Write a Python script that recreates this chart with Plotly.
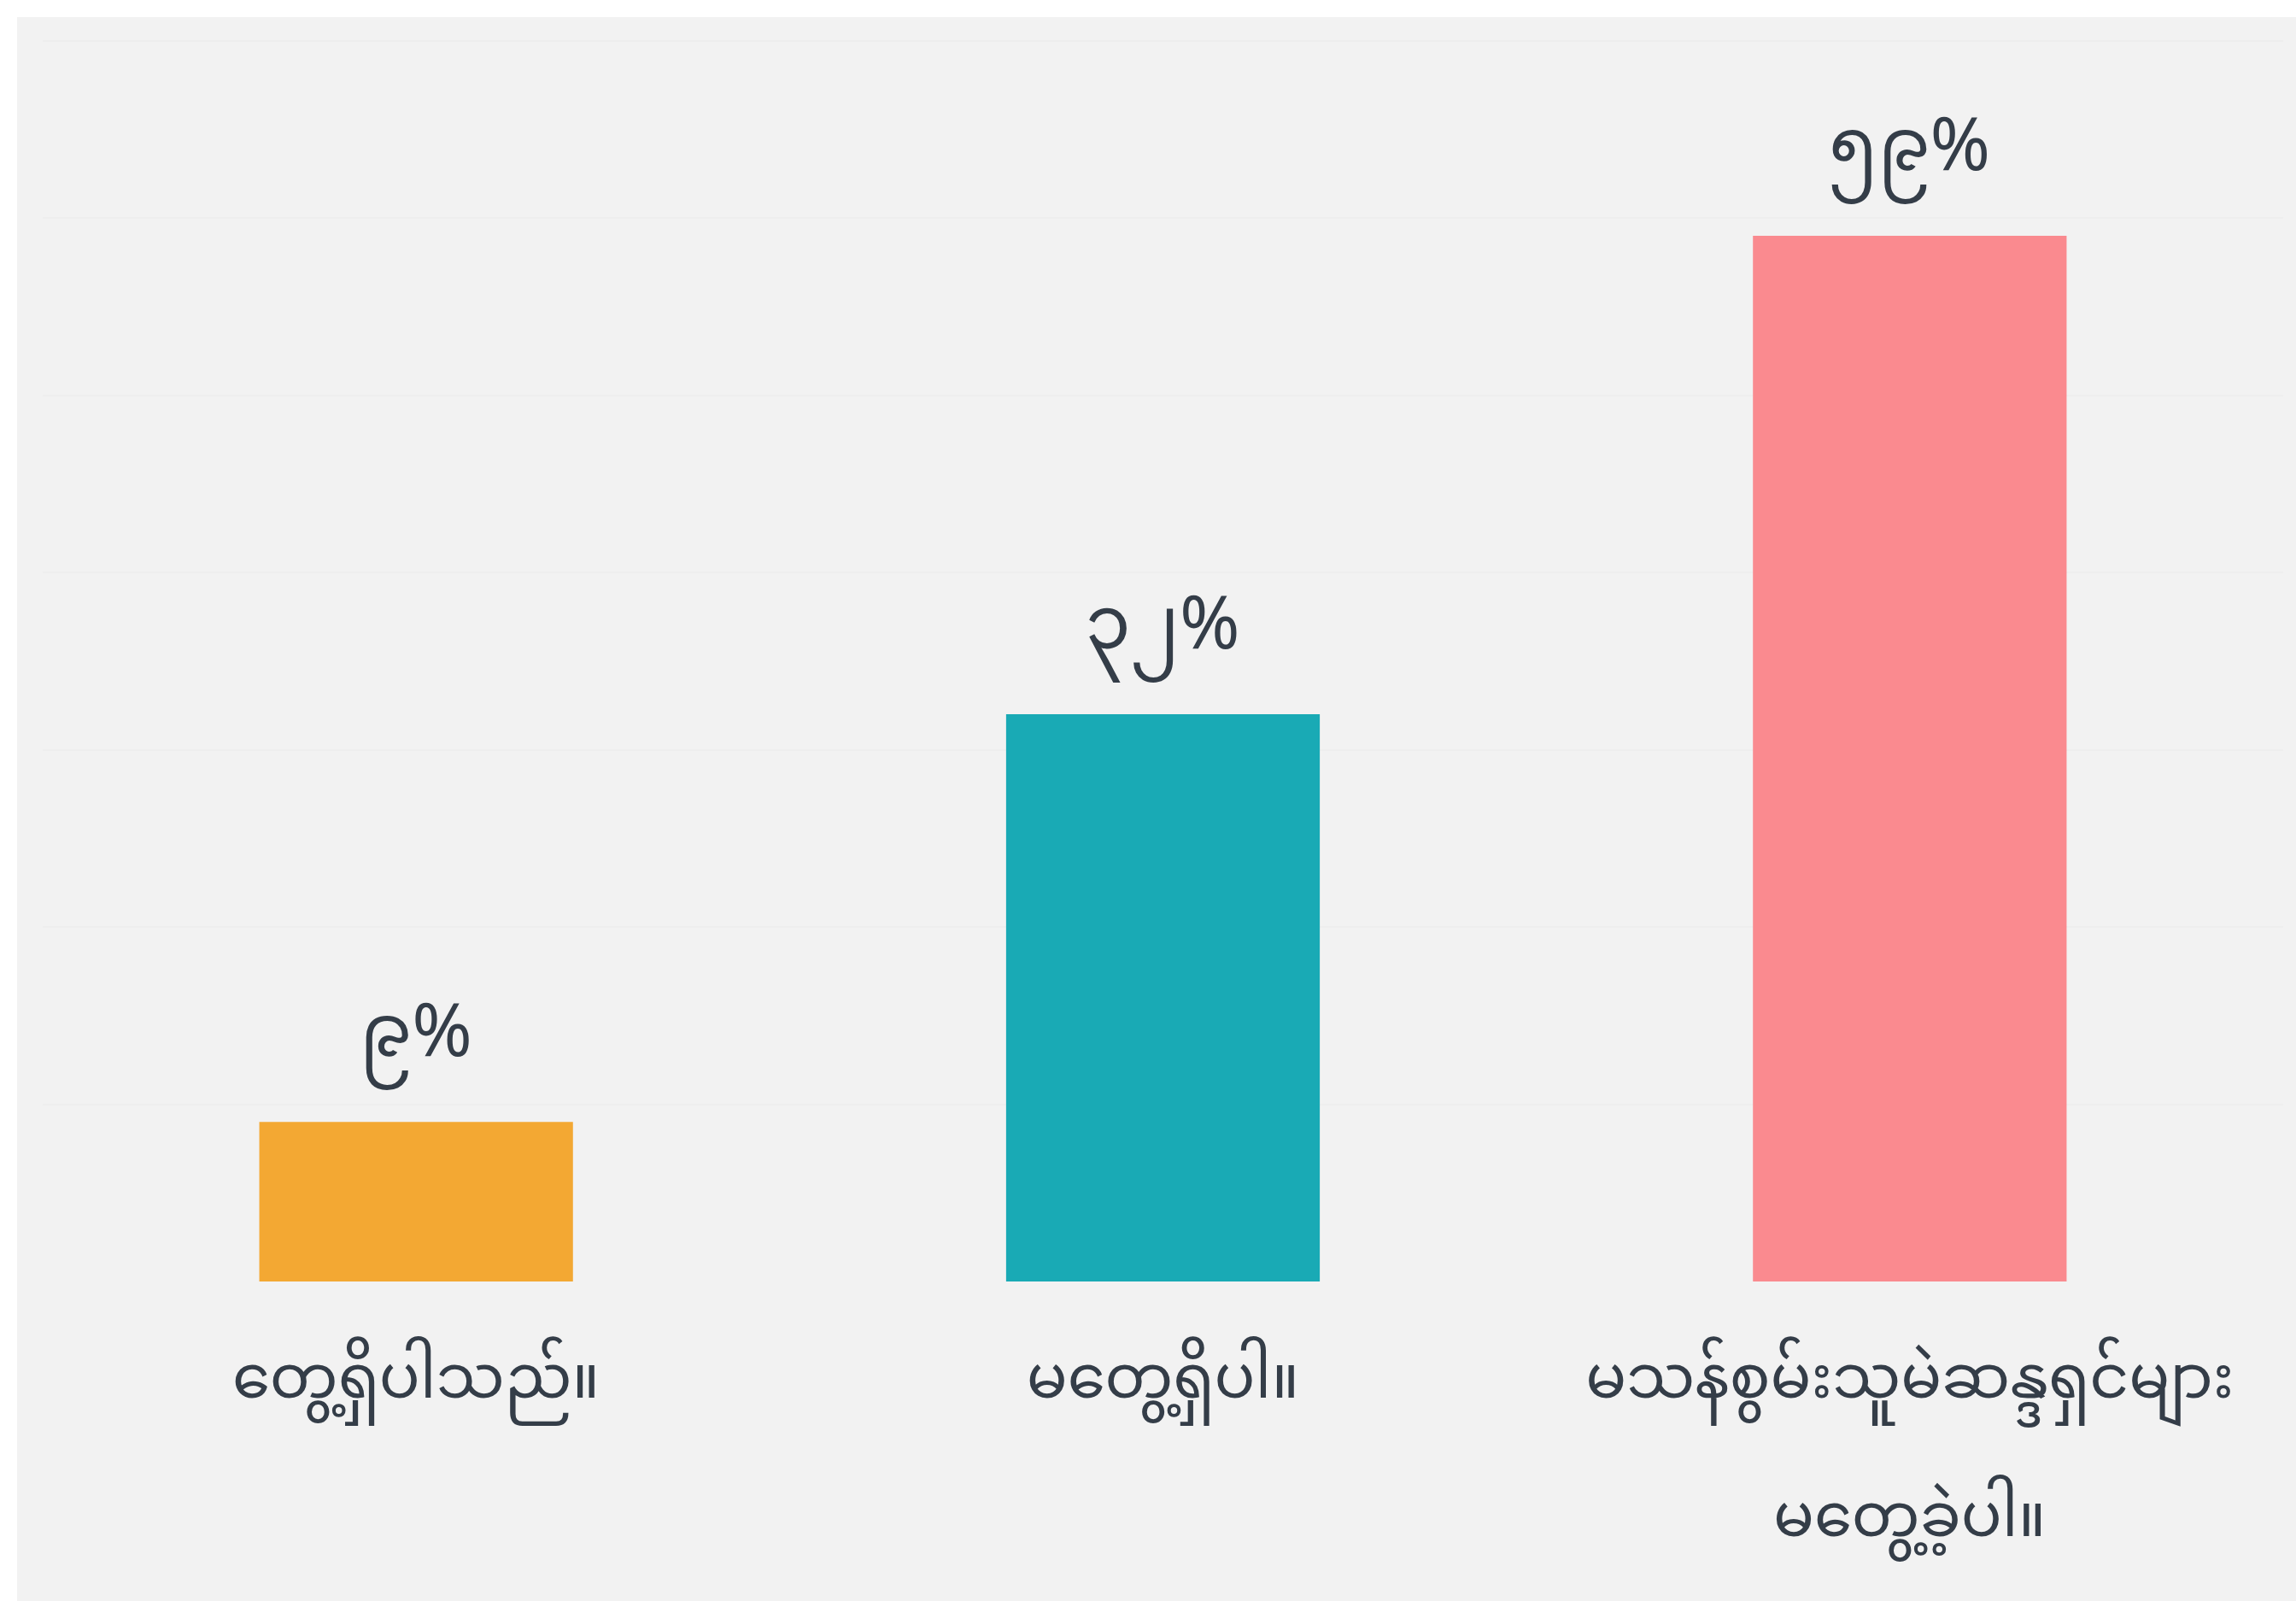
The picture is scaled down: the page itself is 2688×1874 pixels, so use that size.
import plotly.graph_objects as go

categories = ["တွေ့ရှိပါသည်။", "မတွေ့ရှိပါ။", "မသန်စွမ်းသူမဲဆန္ဒရှင်များ"]
category_second_lines = ["", "", "မတွေ့ခဲ့ပါ။"]
values = [9, 32, 59]
value_labels = ["၉%", "၃၂%", "၅၉%"]
bar_colors = ["#f3a833", "#19aab5", "#fa8a8f"]

W, H = 2688, 1874
ML, MR, MT, MB = 50, 15, 27, 374
text_color = "#343d48"
FONT = "Noto Sans Myanmar, Noto Sans"
LABEL_SIZE = 71
VALUE_SIZE = 85

fig = go.Figure(
    go.Bar(
        x=categories,
        y=values,
        marker=dict(color=bar_colors, line=dict(width=0)),
        hoverinfo="skip",
    )
)

# value labels above bars
for c, v, lab in zip(categories, values, value_labels):
    fig.add_annotation(
        x=c, y=v, xref="x", yref="y", text=lab, showarrow=False,
        yanchor="bottom", yshift=2,
        font=dict(size=VALUE_SIZE, color=text_color, family=FONT),
    )

# second lines of category labels
for c, l2 in zip(categories, category_second_lines):
    if l2:
        fig.add_annotation(
            x=c, y=0, xref="x", yref="paper", text=l2, showarrow=False,
            yanchor="middle", yshift=-281,
            font=dict(size=LABEL_SIZE, color=text_color, family=FONT),
        )

pw = W - ML - MR
ph = H - MT - MB
fig.add_shape(
    type="rect", xref="paper", yref="paper", layer="below",
    x0=(20 - ML) / pw, x1=(W - ML) / pw,
    y0=-MB / ph, y1=((H - MB) - 20) / ph,
    fillcolor="#f2f2f2", line=dict(width=0),
)

fig.update_layout(
    width=W, height=H,
    margin=dict(l=ML, r=MR, t=MT, b=MB, autoexpand=False),
    paper_bgcolor="white",
    plot_bgcolor="rgba(0,0,0,0)",
    bargap=0.58,
    showlegend=False,
    font=dict(family=FONT, color=text_color),
    xaxis=dict(
        showgrid=False, zeroline=False, showline=False, automargin=False,
        ticks="", tickfont=dict(size=LABEL_SIZE, color=text_color, family=FONT),
        ticklabelstandoff=64,
    ),
    yaxis=dict(
        range=[0, 71], dtick=10, showticklabels=False, automargin=False,
        showgrid=True, gridcolor="#eeeeee", gridwidth=2,
        zeroline=False, showline=False, ticks="",
    ),
)

fig.write_html(
    "out.html",
    config={"displayModeBar": False},
    post_script="document.body.style.margin='0';document.body.style.overflow='hidden';",
)
